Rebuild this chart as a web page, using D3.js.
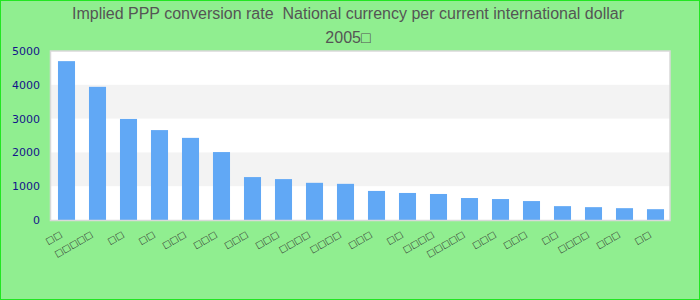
<!DOCTYPE html>
<html>
<head>
<meta charset="utf-8">
<script src="https://cdn.jsdelivr.net/npm/d3@7"></script>
<style>
  html, body { margin: 0; padding: 0; background: #fff; }
  svg { display: block; }
  .title { white-space: pre; }
</style>
</head>
<body>
<svg id="chart" width="700" height="300"></svg>
<script>
// Country names (glyphs unavailable in the source font, shown as boxes)
const categories = [
  "□□", "□□□□□", "□□", "□□", "□□□", "□□□", "□□□", "□□□",
  "□□□□", "□□□□", "□□□", "□□", "□□□□", "□□□□□", "□□□",
  "□□□", "□□", "□□□□", "□□□", "□□"
];
// Implied PPP conversion rate, 2005
const values = [
  4700, 3940, 2990, 2660, 2430, 2010, 1270, 1210, 1100, 1070,
  860, 800, 770, 650, 620, 560, 410, 380, 350, 320
];
const yTicks = [0, 1000, 2000, 3000, 4000, 5000];
const titleLines = [
  "Implied PPP conversion rate  National currency per current international dollar",
  "2005□"
];

const W = 700, H = 300;
const plot = { left: 51, right: 670, top: 51, bottom: 220 };

const svg = d3.select("#chart");

// page background and outer frame
svg.append("rect")
  .attr("x", 0.5).attr("y", 0.5)
  .attr("width", W - 1).attr("height", H - 1)
  .attr("fill", "#90ee90")
  .attr("stroke", "#22e622")
  .attr("stroke-width", 1);

// title
svg.append("g")
  .selectAll("text")
  .data(titleLines)
  .join("text")
  .attr("class", "title")
  .attr("x", 348)
  .attr("y", (d, i) => 19 + i * 24)
  .attr("text-anchor", "middle")
  .attr("font-family", "Liberation Sans, Arial, sans-serif")
  .attr("font-size", 16)
  .attr("fill", "#555")
  .text(d => d);

const x = d3.scaleBand()
  .domain(d3.range(categories.length))
  .range([plot.left, plot.right + 1])
  .paddingInner(0.45)
  .paddingOuter(0.225);

const y = d3.scaleLinear()
  .domain([0, 5000])
  .range([plot.bottom, plot.top]);

// plot background
svg.append("rect")
  .attr("x", plot.left - 0.5).attr("y", plot.top)
  .attr("width", plot.right - plot.left + 0.5)
  .attr("height", plot.bottom - plot.top)
  .attr("fill", "#fff");

// alternating horizontal bands
const bands = d3.pairs(yTicks).filter((p, i) => i % 2 === 1);
svg.append("g")
  .selectAll("rect")
  .data(bands)
  .join("rect")
  .attr("x", plot.left)
  .attr("width", plot.right - plot.left)
  .attr("y", d => y(d[1]))
  .attr("height", d => y(d[0]) - y(d[1]))
  .attr("fill", "#f3f3f3");

// bars
svg.append("g")
  .selectAll("rect")
  .data(values)
  .join("rect")
  .attr("x", (d, i) => x(i))
  .attr("width", x.bandwidth())
  .attr("y", d => y(d))
  .attr("height", d => y(0) - y(d))
  .attr("fill", "#61a8f5");

// plot frame
svg.append("rect")
  .attr("x", plot.left - 0.5).attr("y", plot.top)
  .attr("width", plot.right - plot.left + 0.5)
  .attr("height", plot.bottom - plot.top + 0.5)
  .attr("fill", "none")
  .attr("stroke", "#d9d9d9")
  .attr("stroke-width", 1.5);

// y axis
const yAxis = svg.append("g")
  .attr("transform", `translate(${plot.left - 11},0)`)
  .call(d3.axisLeft(y).tickValues(yTicks).tickFormat(d3.format("d"))
    .tickSize(0).tickPadding(0));
yAxis.select(".domain").remove();
yAxis.selectAll("text")
  .attr("font-family", "DejaVu Sans, sans-serif")
  .attr("font-size", 11)
  .attr("fill", "#14148a");

// x axis with slanted labels
const xAxis = svg.append("g")
  .attr("transform", `translate(0,${plot.bottom})`)
  .call(d3.axisBottom(x).tickSize(0).tickFormat(i => categories[i]));
xAxis.select(".domain").remove();
xAxis.selectAll("text")
  .attr("font-family", "DejaVu Sans, sans-serif")
  .attr("font-size", 9)
  .attr("fill", "#333")
  .attr("text-anchor", "end")
  .attr("x", 0).attr("y", 0)
  .attr("dy", null)
  .attr("transform", "translate(-4,16) rotate(-30)");
</script>
</body>
</html>
